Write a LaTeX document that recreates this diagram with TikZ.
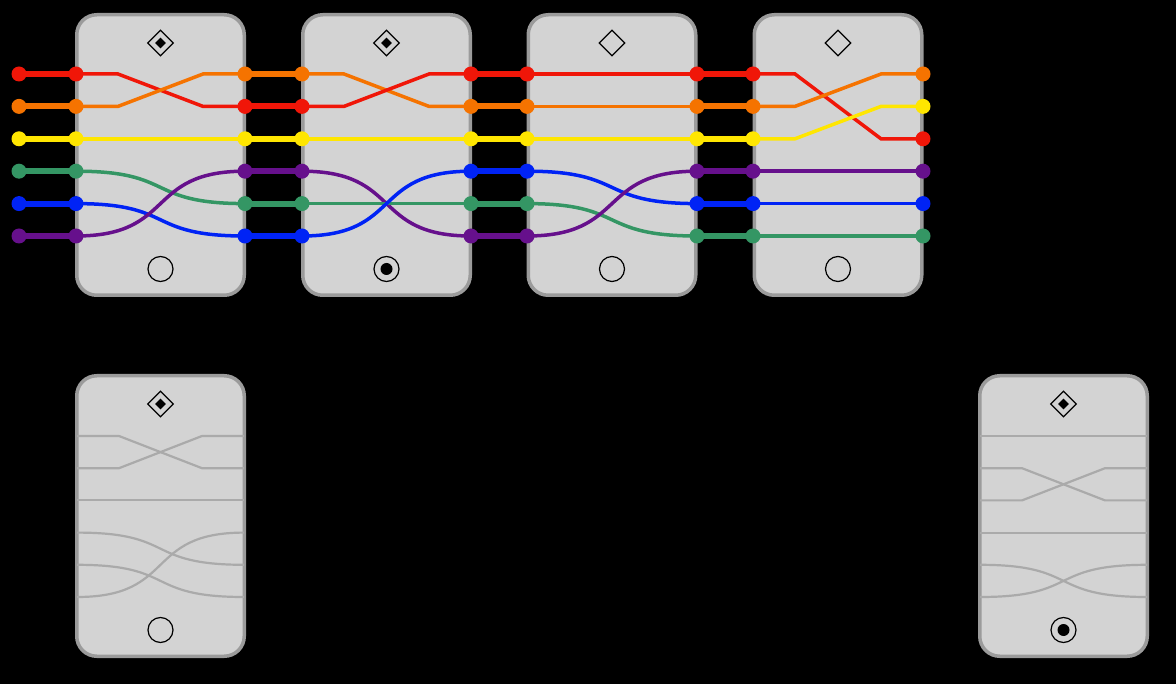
\documentclass[tikz,border=0pt]{standalone}
\usepackage{tikz}
\usepackage{xcolor}
\usetikzlibrary{shapes.geometric,positioning}
\definecolor{wirered}{RGB}{240,22,8}
\definecolor{wireorange}{RGB}{245,115,0}
\definecolor{wireyellow}{RGB}{255,230,0}
\definecolor{wiregreen}{RGB}{52,150,100}
\definecolor{wireblue}{RGB}{0,35,245}
\definecolor{wirepurple}{RGB}{102,16,140}
\definecolor{boxfill}{RGB}{211,211,211}
\definecolor{boxedge}{RGB}{155,155,155}
\definecolor{ghost}{RGB}{170,170,170}
\pgfdeclarelayer{front}
\pgfsetlayers{main,front}
\tikzset{
    phone-box/.style = {draw=boxedge, fill=boxfill, line width=3.5pt, rectangle, rounded corners=20pt, minimum width=167.5pt, minimum height=280.5pt},
    wire-dot/.style = {circle, fill=#1, inner sep=0pt, minimum size=15pt},
    thick-wire/.style = {draw=#1, line width=6pt},
    thin-wire/.style = {draw=#1, line width=3.5pt},
    ghost-wire/.style = {draw=ghost, line width=2.2pt},
    swap-path/.style = {to path={-- ++(42,0) -- ([xshift=-42pt]\tikztotarget) -- (\tikztotarget)}},
    curve-path/.style = {to path={.. controls +(100,0) and +(-100,0) .. (\tikztotarget)}},
    flat-path/.style = {to path={-- (\tikztotarget)}},
    mark-diamond/.style = {diamond, draw=black, line width=1.2pt, inner sep=0pt, minimum size=26pt},
    mark-pip/.style = {diamond, fill=black, inner sep=0pt, minimum size=11pt},
    mark-ring/.style = {circle, draw=black, line width=1.2pt, inner sep=0pt, minimum size=25pt},
    mark-dot/.style = {circle, fill=black, inner sep=0pt, minimum size=12pt},
}

\begin{document}
\begin{tikzpicture}[x=1pt, y=-1pt]
\fill[black] (0,0) rectangle (1176,684);
\useasboundingbox (0,0) rectangle (1176,684);

% phones
\node[phone-box] (b1) at (160.5,155) {};
\node[phone-box] (b2) at (386.5,155) {};
\node[phone-box] (b3) at (612,155) {};
\node[phone-box] (b4) at (838,155) {};
\node[phone-box] (b5) at (160.5,516) {};
\node[phone-box] (b6) at (1063.5,516) {};

% marks
\node[mark-diamond] (m1) at ([yshift=-30pt]b1.north) {};
\node[mark-pip] (n1) at (m1) {};
\node[mark-ring] (o1) at ([yshift=28pt]b1.south) {};
\node[mark-diamond] (m2) at ([yshift=-30pt]b2.north) {};
\node[mark-pip] (n2) at (m2) {};
\node[mark-ring] (o2) at ([yshift=28pt]b2.south) {};
\node[mark-dot] (p2) at (o2) {};
\node[mark-diamond] (m3) at ([yshift=-30pt]b3.north) {};
\node[mark-ring] (o3) at ([yshift=28pt]b3.south) {};
\node[mark-diamond] (m4) at ([yshift=-30pt]b4.north) {};
\node[mark-ring] (o4) at ([yshift=28pt]b4.south) {};
\node[mark-diamond] (m5) at ([yshift=-30pt]b5.north) {};
\node[mark-pip] (n5) at (m5) {};
\node[mark-ring] (o5) at ([yshift=28pt]b5.south) {};
\node[mark-diamond] (m6) at ([yshift=-30pt]b6.north) {};
\node[mark-pip] (n6) at (m6) {};
\node[mark-ring] (o6) at ([yshift=28pt]b6.south) {};
\node[mark-dot] (p6) at (o6) {};

% dots and the wires between phones
\foreach \ca/\cb/\xa/\xb/\cols in {
    0/1/19/76/{wirered,wireorange,wireyellow,wiregreen,wireblue,wirepurple},
    2/3/245/302/{wireorange,wirered,wireyellow,wirepurple,wiregreen,wireblue},
    4/5/471/527/{wirered,wireorange,wireyellow,wireblue,wiregreen,wirepurple},
    6/7/697/753/{wirered,wireorange,wireyellow,wirepurple,wireblue,wiregreen}}
  \foreach \col [count=\r] in \cols {
    \begin{pgfonlayer}{front}
      \node[wire-dot=\col] (d\ca-\r) at (\xa,{74+32.4*(\r-1)}) {};
      \node[wire-dot=\col] (d\cb-\r) at (\xb,{74+32.4*(\r-1)}) {};
    \end{pgfonlayer}
    \draw[thick-wire=\col] (d\ca-\r.center) -- (d\cb-\r.center);
  }
\begin{pgfonlayer}{front}
\foreach \col [count=\r] in {wireorange,wireyellow,wirered,wirepurple,wireblue,wiregreen}
  \node[wire-dot=\col] (d8-\r) at (923,{74+32.4*(\r-1)}) {};
\end{pgfonlayer}

% wires inside the phones
\foreach \a/\b/\col/\how in {1/2/wirered/swap-path, 2/1/wireorange/swap-path, 3/3/wireyellow/flat-path,
    4/5/wiregreen/curve-path, 5/6/wireblue/curve-path, 6/4/wirepurple/curve-path}
  \draw[thin-wire=\col] (d1-\a.center) to[\how] (d2-\b.center);
\foreach \a/\b/\col/\how in {1/2/wireorange/swap-path, 2/1/wirered/swap-path, 3/3/wireyellow/flat-path,
    4/6/wirepurple/curve-path, 5/5/wiregreen/flat-path, 6/4/wireblue/curve-path}
  \draw[thin-wire=\col] (d3-\a.center) to[\how] (d4-\b.center);
\foreach \a/\b/\col/\how in {1/1/wirered/flat-path, 2/2/wireorange/flat-path, 3/3/wireyellow/flat-path,
    4/5/wireblue/curve-path, 5/6/wiregreen/curve-path, 6/4/wirepurple/curve-path}
  \draw[thin-wire=\col] (d5-\a.center) to[\how] (d6-\b.center);
\foreach \a/\b/\col/\how in {1/3/wirered/swap-path, 2/1/wireorange/swap-path, 3/2/wireyellow/swap-path,
    4/4/wirepurple/flat-path, 5/5/wireblue/flat-path, 6/6/wiregreen/flat-path}
  \draw[thin-wire=\col] (d7-\a.center) to[\how] (d8-\b.center);

% grey wires in the lower phones
\foreach \r in {1,...,6} {
  \coordinate (g5-\r) at (77,{436+32.2*(\r-1)});
  \coordinate (h5-\r) at (244,{436+32.2*(\r-1)});
  \coordinate (g6-\r) at (980,{436+32.2*(\r-1)});
  \coordinate (h6-\r) at (1147,{436+32.2*(\r-1)});
}
\foreach \a/\b/\how in {1/2/swap-path, 2/1/swap-path, 3/3/flat-path, 4/5/curve-path, 5/6/curve-path, 6/4/curve-path}
  \draw[ghost-wire] (g5-\a) to[\how] (h5-\b);
\foreach \a/\b/\how in {1/1/flat-path, 2/3/swap-path, 3/2/swap-path, 4/4/flat-path, 5/6/curve-path, 6/5/curve-path}
  \draw[ghost-wire] (g6-\a) to[\how] (h6-\b);
\end{tikzpicture}
\end{document}
